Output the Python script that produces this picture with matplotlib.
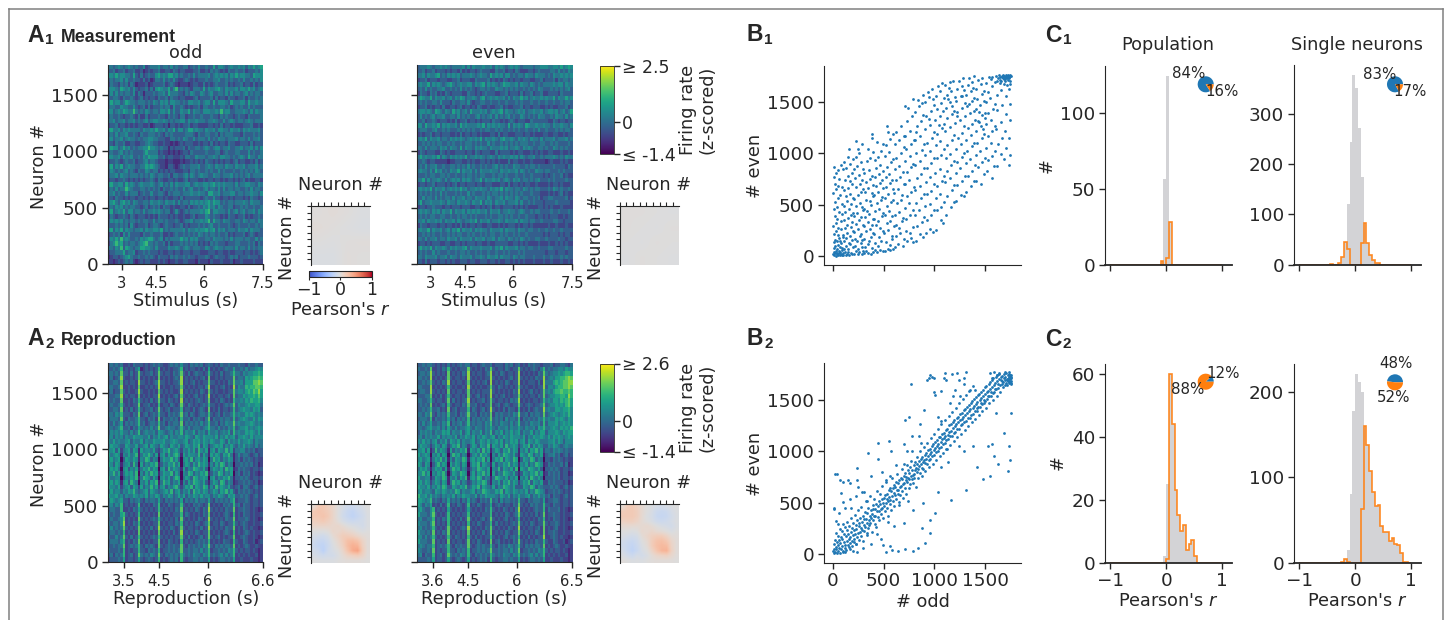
"""Split-half firing rate maps, rank scatter plots and correlation histograms."""

import matplotlib

matplotlib.use("Agg")
import matplotlib.pyplot as plt
import numpy as np
from matplotlib.cm import ScalarMappable
from matplotlib.colors import Normalize
from matplotlib.lines import Line2D

WIDTH = 1448
HEIGHT = 620
N_NEURONS = 1768
N_BINS = 62
TEXT_COLOR = "#262626"
BLUE = "#1f77b4"
ORANGE = "#ff7f0e"
GREY = "#d3d3d6"

# coarse firing rate maps, one digit per cell, top row first
A1_ODD = [
    "44345434543 43352344 453443534 3344234353 343363554345 445453546456",
    "33423342334 22312323 342233243 2332223342 232434323243 343342333435",
    "55464554436 32423433 564546645 3433435344 445345454535 464554436555",
    "34344535334 33242312 443534353 2234323233 343344533434 334353343435",
    "24332434243 12223123 333423432 1222123322 423234333423 233423324233",
    "45543654535 32334242 565446357 3434324443 635445643544 453554645345",
    "35353434435 24313334 344536444 3324354335 434533443535 344345343443",
    "33443243343 23423233 243342433 2332223423 333424233243 323342433434",
    "46455346544 34443435 435453554 4343554453 455363555436 444553644544",
    "34433544335 32342423 334344253 3432323342 443343344342 343433534333",
    "55345465447 43435434 435546353 3544635443 555445474553 344454353544",
    "34334323343 24224233 343324343 2442334334 333433243433 234332433334",
    "44534453445 34345345 544543434 4553544544 434454335345 434434543444",
    "23342332323 23322312 333231332 3233423322 223323242332 322233342232",
    "56445354544 44354454 644535463 5534664544 354453554435 445354544453",
    "34353445334 32433444 343243433 3334443243 344334243444 333243334343",
    "45344534544 34344554 433322443 4354335344 435343544344 453443534453",
    "33243342233 22334543 322322121 2323332232 332423233243 322333242333",
    "46553464534 34455755 434331323 3342433443 454345534453 344534453535",
    "34334534343 33346444 423221212 1233243333 343334423433 344333534334",
    "55445354453 34354655 533423322 2324433544 434454355443 434543644354",
    "23343234334 23345344 322212211 1212232323 243323232332 342332232423",
    "46354634544 33446565 432213321 2343344453 345435443544 354453444534",
    "35434345343 24335434 423232332 2233244343 343433534333 433434343543",
    "34453544344 43434354 344334244 3345354345 443354434445 343434534444",
    "23323343232 32323343 243223323 2234233322 323323323233 232342322332",
    "56445536454 34544454 345343535 4445534544 554564545444 353445544354",
    "34353447543 33443434 342433434 3353453343 453443535344 344334353443",
    "44534335344 42343353 344324344 4344454454 436644534445 534434454435",
    "33243323233 23323233 233232233 2423333332 343353323323 233323243323",
    "45643564535 43344354 454354453 5344354545 456465534344 344454354443",
    "34354534344 33234234 342433232 2332423343 546453543344 233434334334",
    "46345463553 44353445 454344235 3234344445 467355444353 453453445354",
    "24323343243 23332323 243332323 2232234233 354343323243 323342323343",
    "35454534344 34344335 344343334 3234453445 457364435443 344354344354",
    "33343434253 23334234 432343323 3423233343 434533433343 234333433434",
    "56354635443 44535445 546343444 4453544545 564563545344 435445354443",
    "23434253533 33243343 334223234 3343434354 343443433423 233342343233",
    "35464745433 43545664 345243444 4645354533 344354443435 344434433534",
    "24575634344 34567443 433424233 3434343423 232434333233 344333434243",
    "44354736543 44665543 533335445 4345434443 354345443444 353443534344",
    "23344463445 23343433 323223323 3233323332 223332332232 233323323234",
    "12332345643 34334343 243332434 3343433233 343234333234 342333433323",
    "22123234342 12323322 232321223 2233222132 221322232223 122322223222",
]
A1_EVEN = [
    "34445434454 54344445 353544454 4535454345 454344443445 554455464565",
    "33423342333 23233242 323323433 3224334233 243222332343 333443534354",
    "44535445634 35454534 445434544 3645453553 434435443544 434354454545",
    "23342333233 32233423 332243333 4232324323 233233322334 233342434434",
    "45446354543 45643454 455354563 5454346554 453544354343 444454553544",
    "34353433445 33434353 434323443 4335443434 343343434354 333434343453",
    "24332434232 43233332 243323234 3332233423 332423342334 223333243333",
    "46544635445 34535465 344543563 4545445353 544645345445 454463544645",
    "34343344353 33243344 353233443 3433433433 343433343343 343343343443",
    "23342323324 22332342 332324322 3223342322 333423323332 232322333423",
    "45545436543 54364534 536444545 3454563544 345453445445 345545345346",
    "35343453445 33443534 343345343 4535343453 433543434354 433435443534",
    "33423343233 32324233 423323233 3243323234 323332243333 332243233233",
    "55364454635 45445364 544445463 5454544363 545436544544 544354454435",
    "34443345334 34333434 343433434 4334343343 434334334353 343334343443",
    "23233423323 33223242 332332322 2332423322 233323323222 332233223233",
    "45463544534 43545454 345454635 4454356445 435454354435 344453444534",
    "33434343443 34343343 444343433 5343343434 343444334334 433434333343",
    "44353444354 53544363 544354544 3544454534 454354543344 343354343433",
    "24323332243 23223333 233243233 3224233332 323322232323 223322232232",
    "46454454635 43545454 634454543 4543545445 453543445334 344454343544",
    "33432332222 21223332 232322332 3232322242 332232232222 212322232322",
    "34353445334 33443434 353433434 3345343433 544334344343 333343333243",
    "45443536453 43544635 445353544 4544354454 453543433544 344333434333",
    "33343443344 34334334 344343443 3343443433 343343343333 232343342322",
    "44635344543 53454535 454344635 4454534543 545344343453 334343333433",
    "23323342333 23234233 233323323 3322233242 332323322322 223233232223",
    "45454635445 34545464 534454544 3545463544 344354343443 334354343343",
    "34343434353 43334343 353433343 4344343434 343433343332 223232342322",
    "33534435343 44353445 344354443 5434453544 354344334342 334433333423",
    "46344544454 35443544 543544635 4535445344 453533434333 233334333332",
    "23323343332 33233323 332233232 3423323333 232323222233 232322232222",
    "45454354535 44635445 354545445 3544534454 434543343443 333433433343",
    "34343443344 33433434 434343334 3433443434 334334333233 232333223233",
    "44535445453 54453543 445463544 5344543544 453544344334 333344332333",
    "24332333233 23323242 323323322 3322323233 323233232222 223223222322",
    "45446354453 45354635 445354544 3544453544 435443443343 343343343333",
    "33434343343 34343443 343433434 3443343433 434334333333 232333232332",
    "44353445344 35445354 445354453 4453544354 343543433443 343333433233",
    "23323233322 33223323 233323322 3223333322 332323222232 223223232322",
    "46454635445 43545445 635444544 4535463544 453443443343 334433333433",
    "34343353433 34334344 343343433 4334334343 334343333333 323332333233",
    "44354445344 53544354 445344543 5445354443 543443334333 433433343433",
    "33242333233 23232233 323322333 2332322332 323232223222 322322232232",
]
A2_ODD = [
    "34343 4 223243 3 3232343 4 32234343 5 3324343423 4 323243343 3 34332433433",
    "33434 7 232324 6 1232323 7 23232334 7 2323323242 6 232323433 6 33435344565",
    "44343 8 332423 8 3233423 8 32332434 8 3242343323 7 323242334 7 44354556676",
    "34234 9 322323 8 2323232 8 23232343 9 2323232342 8 223232333 8 34436567787",
    "33443 8 232332 9 3323234 9 33232334 9 2323423233 8 332323243 8 44536668898",
    "44334 9 223232 8 2232323 9 23223233 8 3232323324 9 223234232 9 35447677887",
    "34233 8 323223 9 3223232 8 32323223 9 2323232432 8 323223233 8 45546768796",
    "33344 9 232332 8 2323233 9 23232342 8 3232342323 9 232332342 8 34465667686",
    "43433 8 223243 7 3232423 8 33243232 9 2323234323 8 223243232 7 44546576675",
    "34334 7 323233 8 2334232 7 23324323 8 3243232343 7 332323434 8 35445655664",
    "33443 8 232423 7 3233423 8 32342333 7 2332423432 8 232423323 7 34565546563",
    "44354 7 333243 8 2342343 7 33243434 8 3424323443 7 323424334 7 45446565454",
    "34443 8 324334 7 3324342 8 24334342 7 3342434324 8 243343443 7 34565446465",
    "43534 6 243434 7 3423443 7 34243443 8 2434343534 7 334243544 8 45445565454",
    "44345 7 334243 6 4343534 8 33454434 7 4353444345 7 443534354 7 34556454565",
    "35454 6 443534 7 3454453 6 54345354 7 3544635453 6 445345463 7 45446565464",
    "45354 5 354465 5 5446354 6 45635445 5 4654365465 5 546354645 6 35565464555",
    "54645 4 456354 4 6354465 5 56445654 4 5634656465 4 654465364 5 46455653544",
    "46554 3 365446 3 4563654 3 65436546 3 4654657365 2 456563546 4 35464543534",
    "55636 2 456365 1 6455463 2 46574564 2 5464637546 1 563654746 2 44553434233",
    "64565 1 546457 1 4657536 1 56364675 1 6465547364 1 646536574 1 35344323423",
    "56456 0 365465 1 5476354 0 46557463 0 5647356465 0 475635465 1 34243432322",
    "65365 1 456374 0 6354657 1 35465746 0 4653647565 1 536476354 0 33434342312",
    "46564 0 563546 1 4657465 0 56374654 1 6354765463 0 465463756 1 24343323323",
    "55746 1 465647 0 5364756 1 46557364 0 5476354657 1 354763546 0 34243423212",
    "64455 0 354657 1 4765364 0 56463576 0 4653764565 0 563546574 1 33434323323",
    "56465 1 563754 0 5463657 1 47563546 1 5364765463 1 465376354 1 23343432312",
    "65546 2 456365 2 6354746 2 56354674 2 4657365476 2 537465463 2 34244323423",
    "46455 3 546574 3 4563654 3 45647356 3 5463756465 3 465365746 3 24343432323",
    "65564 5 354465 4 5463546 5 35465346 4 6354654645 5 354654365 6 33434323423",
    "46545 6 332434 5 3243443 6 32434343 6 2434353443 6 324343435 7 23334323323",
    "45354 7 232323 7 2323243 7 23243233 7 3232434323 8 232324343 7 34243323323",
    "34433 7 223243 6 3232323 7 32323243 8 2323243243 9 323232433 8 23343323212",
    "43433 6 732323 7 2323232 8 23232333 7 2432323243 8 232323432 7 23243323223",
    "34334 5 823232 8 3232343 7 32323242 8 3232324323 9 323232433 8 23334323212",
    "43443 5 923243 7 2323233 8 23233243 7 2323243234 8 233243233 7 32343223223",
    "35343 4 832323 8 3232423 9 32324323 8 3233232423 9 323232433 8 23243232212",
    "34434 3 723232 8 2323232 8 23232423 9 2323243233 8 232323432 7 23234323223",
    "43353 4 832423 7 3232343 7 32323233 8 3242323423 8 323423233 8 22343223212",
    "34443 5 723243 8 2323233 8 23243232 7 2323234343 7 232324332 7 32243223123",
    "33434 4 823434 7 3243432 8 32343433 8 3243434354 8 324343443 8 23234322322",
    "43334 3 723233 7 3324343 7 23343434 8 3343443534 7 233434354 7 32323323212",
    "34243 4 723423 8 4343543 8 32434343 7 4343544354 7 343453534 7 23232322312",
    "23334 3 623323 6 3234323 7 23234342 7 3233443433 6 232344343 6 22322232212",
]
A2_EVEN = [
    "33434 4 323232 4 2323434 4 23323433 4 2333243423 4 232434332 3 33423344324",
    "43343 8 223243 7 3232333 8 32323243 8 3233243233 8 323234324 7 34344554655",
    "34434 9 323232 8 2323243 9 23233234 9 2324323323 9 232323243 8 43455656776",
    "44343 9 232323 8 3233232 9 32323233 9 3232323423 9 323232433 9 34546677898",
    "33434 8 323243 9 2323323 8 23232342 9 2323243233 9 232333242 9 44467678899",
    "44333 9 232323 7 3232232 9 32323223 8 3243232323 8 323223233 9 35546778898",
    "34433 9 323232 8 2323323 8 23232333 9 3232323243 9 232342323 8 45467787787",
    "33344 8 232423 7 3233232 8 32342323 9 2323423233 8 323233243 8 34556677697",
    "44334 7 323323 8 2423234 9 23233423 8 3233232434 9 232323323 7 45466576786",
    "34343 8 232342 7 3233243 8 33423233 8 2342343233 8 323432334 8 34556565786",
    "33434 7 334232 8 2342333 7 24323423 9 3232424332 7 232423433 9 45446656675",
    "44354 8 324343 7 3342434 8 33424343 8 2434334354 8 334243443 8 34565456575",
    "34443 7 243343 6 3424343 7 24343434 8 3434253443 7 243434354 7 45446565465",
    "43534 6 334354 7 2434534 7 34344354 7 3435443534 7 334354453 7 35556456565",
    "44345 6 445353 6 4353445 6 43544354 6 4354453544 6 435445365 7 44565465657",
    "35454 5 354465 6 3544635 6 35446354 7 3546354645 6 354463546 6 35556546566",
    "45354 5 446354 5 5463546 5 46354654 5 6354654655 5 463546556 5 46465654565",
    "54645 3 563546 3 6546354 4 56346546 4 5646354656 3 563654654 4 45564653555",
    "46554 2 465365 2 4657354 2 46536547 2 6546374565 2 465736465 3 35465434544",
    "55636 1 374654 1 6354657 1 65463746 1 4653657465 1 546365746 2 44354543433",
    "64565 0 546365 0 4756354 0 35647564 0 5364765463 1 654763546 1 34453423423",
    "56456 1 465746 1 5365476 1 56465736 0 4657365476 0 365476354 0 33243432322",
    "65365 0 357465 0 6465365 0 46573654 1 6354657465 1 546354765 1 24343342412",
    "46564 1 465636 1 4756354 1 35476546 0 5473654637 0 654765463 0 33434323323",
    "55746 0 546574 0 3654765 0 46365746 0 6354765463 1 365465746 1 24343423312",
    "64455 1 365476 1 5463657 1 56476354 1 4765463546 0 546375464 0 33343423323",
    "56465 2 465365 1 4756354 2 35465763 1 5463657465 2 465736546 2 24343332312",
    "65546 3 546476 3 3654657 3 46573654 3 6354765463 3 365476354 3 33434323423",
    "56455 4 365465 4 5476354 4 56354765 4 4657365465 4 546354765 4 23343432323",
    "75564 6 454354 5 4635465 5 44635465 5 5436546354 6 445635464 5 34243323423",
    "66545 7 343243 6 3434243 6 34324343 7 3425344343 7 332434443 6 23344323323",
    "65354 6 232423 7 2324323 7 23243233 6 2343233243 8 323243433 7 33243323323",
    "56433 5 723232 6 3232323 6 32323243 7 3232432324 9 232323433 7 24333423212",
    "64443 5 832323 7 2323233 7 23232333 7 2323243234 8 323232423 8 23343323223",
    "45334 4 723243 7 3232423 8 32323423 8 3232342323 7 232323243 7 23243323212",
    "54443 5 823232 7 2323232 7 23243233 7 2423232343 8 323243233 8 32334323223",
    "45343 4 732323 8 3232343 9 32323243 8 3232324323 9 232332342 8 23234223212",
    "64434 3 823243 8 2323232 8 23232423 8 2323243233 8 323232432 8 23343223223",
    "55353 4 732323 7 3243232 7 32423233 7 3232342343 7 232423233 9 22343232212",
    "64443 3 823232 8 2323323 8 23243232 8 2342323243 8 323232433 7 32243223123",
    "45434 4 723434 7 3243433 8 32343433 7 3243435434 7 324343443 8 23234322322",
    "54334 3 823233 7 3324343 7 23343434 8 3343443534 8 233434354 7 32323323212",
    "45243 3 723423 8 4343543 7 32434343 7 4343544354 7 343453534 7 23232322312",
    "33334 3 623323 6 3234323 6 23234342 7 3233443433 6 232344343 6 22322232212",
]
CELL_BASE = -1.3
CELL_STEP = 0.36

A1_TIME_TICKS = [5.4, 19.2, 38.4, 62]
A1_TIME_LABELS = ["3", "4.5", "6", "7.5"]
A2_ODD_TIME_TICKS = [6.3, 20.5, 40, 62]
A2_ODD_TIME_LABELS = ["3.5", "4.5", "6", "6.6"]
A2_EVEN_TIME_TICKS = [6.3, 20.4, 40, 62]
A2_EVEN_TIME_LABELS = ["3.6", "4.5", "6", "6.5"]
NEURON_TICKS = [0, 500, 1000, 1500]

CORR_A1_ODD = [
    [0.01, 0.03, 0.01, -0.02],
    [0.03, 0.01, -0.01, -0.03],
    [0.00, -0.01, 0.01, 0.02],
    [-0.03, -0.03, 0.02, 0.00],
]
CORR_A1_EVEN = [
    [0.01, 0.01, 0.00, -0.01],
    [0.01, 0.00, -0.01, 0.01],
    [0.00, -0.01, 0.01, 0.00],
    [-0.01, 0.01, 0.00, -0.01],
]
CORR_A2_ODD = [
    [0.05, 0.20, 0.22, 0.15, 0.10, 0.00, -0.05, -0.10, -0.12, -0.08, -0.05, 0.00],
    [0.20, 0.25, 0.22, 0.18, 0.10, 0.00, -0.08, -0.15, -0.18, -0.12, -0.08, -0.02],
    [0.22, 0.22, 0.25, 0.20, 0.10, 0.00, -0.10, -0.15, -0.20, -0.15, -0.10, -0.03],
    [0.15, 0.18, 0.20, 0.15, 0.10, 0.02, -0.05, -0.10, -0.12, -0.10, -0.08, -0.03],
    [0.10, 0.10, 0.10, 0.10, 0.08, 0.10, 0.05, 0.00, -0.03, -0.05, -0.08, -0.03],
    [0.00, 0.00, 0.00, 0.02, 0.10, 0.08, 0.12, 0.08, 0.05, 0.00, -0.03, 0.00],
    [-0.05, -0.08, -0.10, -0.05, 0.05, 0.12, 0.18, 0.18, 0.15, 0.10, 0.05, 0.02],
    [-0.10, -0.15, -0.15, -0.10, 0.00, 0.08, 0.18, 0.28, 0.30, 0.25, 0.12, 0.03],
    [-0.12, -0.18, -0.20, -0.12, -0.03, 0.05, 0.15, 0.30, 0.38, 0.35, 0.15, 0.03],
    [-0.08, -0.12, -0.22, -0.10, -0.05, 0.00, 0.10, 0.25, 0.40, 0.45, 0.18, 0.03],
    [-0.05, -0.08, -0.10, -0.08, -0.08, -0.03, 0.05, 0.12, 0.15, 0.18, 0.12, 0.02],
    [0.00, -0.02, -0.03, -0.03, -0.03, 0.00, 0.02, 0.03, 0.03, 0.03, 0.02, 0.00],
]
CORR_A2_EVEN = [
    [0.05, 0.18, 0.20, 0.14, 0.06, 0.00, -0.03, -0.06, -0.08, -0.05, -0.03, 0.00],
    [0.18, 0.20, 0.20, 0.16, 0.06, 0.00, -0.05, -0.12, -0.14, -0.12, -0.06, -0.02],
    [0.20, 0.20, 0.20, 0.16, 0.06, -0.02, -0.06, -0.14, -0.16, -0.14, -0.08, -0.03],
    [0.14, 0.16, 0.16, 0.12, 0.05, 0.00, -0.04, -0.10, -0.12, -0.10, -0.06, -0.02],
    [0.06, 0.06, 0.06, 0.05, 0.06, 0.08, 0.04, 0.00, -0.04, -0.06, -0.08, -0.03],
    [0.00, 0.00, -0.02, 0.00, 0.08, 0.06, 0.10, 0.05, 0.03, 0.00, -0.04, 0.00],
    [-0.03, -0.06, -0.08, -0.06, 0.04, 0.10, 0.15, 0.18, 0.18, 0.12, 0.04, 0.02],
    [-0.08, -0.12, -0.14, -0.10, 0.00, 0.06, 0.18, 0.26, 0.28, 0.22, 0.10, 0.03],
    [-0.10, -0.14, -0.18, -0.12, -0.03, 0.04, 0.18, 0.28, 0.32, 0.30, 0.12, 0.03],
    [-0.06, -0.14, -0.20, -0.14, -0.05, 0.00, 0.12, 0.24, 0.34, 0.36, 0.14, 0.03],
    [-0.03, -0.08, -0.12, -0.06, -0.08, -0.04, 0.04, 0.10, 0.12, 0.14, 0.08, 0.02],
    [0.02, 0.00, -0.03, -0.02, -0.03, 0.00, 0.02, 0.03, 0.03, 0.03, 0.02, 0.00],
]
CORR_TICKS = [0, 200, 400, 600, 800, 1000, 1200, 1400, 1600]

B1_POINTS = [
    (3, 17), (9, 41), (14, 8), (22, 29), (27, 3), (33, 52), (38, 14), (44, 33), (51, 6), (57, 24),
    (63, 47), (69, 11), (74, 38), (81, 19), (87, 58), (93, 7), (98, 31), (11, 73), (24, 92), (37, 68),
    (49, 107), (66, 84), (78, 121), (91, 76), (6, 133), (19, 158), (41, 142), (58, 176), (72, 149), (96, 188),
    (13, 214), (31, 247), (47, 203), (83, 262), (4, 291), (26, 318), (54, 276), (77, 337), (17, 386), (43, 363),
    (89, 412), (8, 453), (36, 478), (64, 431), (21, 527), (52, 569), (94, 503), (2, 612), (29, 648), (71, 596),
    (16, 703), (47, 686), (86, 672), (7, 772), (34, 811), (61, 749), (12, 863), (53, 841), (79, 887), (98, 846),
    (104, 12), (118, 37), (127, 6), (139, 22), (152, 41), (163, 9), (177, 28), (191, 16), (108, 69), (133, 94),
    (147, 63), (171, 112), (194, 83), (112, 143), (129, 171), (158, 126), (183, 157), (103, 207), (141, 228), (167, 193),
    (199, 241), (116, 269), (136, 303), (174, 282), (189, 327), (107, 352), (149, 374), (181, 398), (122, 427), (161, 456),
    (197, 419), (113, 491), (143, 532), (178, 507), (126, 581), (168, 608), (193, 563), (106, 639), (153, 667), (186, 702),
    (119, 743), (147, 781), (173, 726), (192, 813), (131, 862), (164, 894), (109, 917), (197, 942), (157, 1043), (144, 968),
    (208, 23), (226, 51), (243, 14), (261, 38), (283, 19), (296, 47), (219, 96), (251, 72), (274, 123), (291, 88),
    (213, 167), (237, 143), (268, 191), (289, 152), (204, 233), (248, 261), (279, 218), (223, 314), (257, 347), (294, 302),
    (211, 392), (241, 423), (276, 381), (298, 446), (229, 487), (263, 516), (287, 472), (207, 558), (246, 593), (278, 621),
    (232, 672), (269, 703), (297, 654), (217, 758), (254, 787), (284, 736), (203, 843), (239, 876), (272, 912), (293, 851),
    (224, 961), (258, 1003), (231, 1118), (287, 1096), (246, 1041), (302, 27), (328, 43), (349, 31), (371, 22), (394, 38),
    (317, 86), (343, 117), (386, 74), (309, 163), (358, 142), (379, 187), (327, 238), (364, 264), (393, 219), (304, 293),
    (342, 327), (381, 306), (319, 382), (359, 408), (397, 361), (308, 462), (337, 436), (373, 497), (326, 548), (362, 531),
    (391, 583), (313, 627), (348, 664), (386, 612), (322, 723), (367, 746), (396, 694), (307, 813), (353, 837), (384, 782),
    (331, 923), (369, 956), (392, 1011), (383, 1191), (388, 1146), (341, 1047), (412, 53), (437, 38), (463, 61), (489, 44),
    (419, 128), (447, 97), (478, 146), (407, 213), (452, 183), (491, 238), (426, 297), (468, 276), (403, 364), (441, 341),
    (483, 392), (418, 437), (457, 462), (496, 418), (431, 518), (473, 547), (409, 593), (446, 621), (487, 576), (423, 682),
    (462, 709), (494, 661), (414, 767), (451, 794), (481, 743), (428, 853), (466, 886), (498, 826), (411, 932), (443, 968),
    (476, 1021), (437, 1106), (492, 1089), (513, 52), (539, 68), (567, 57), (593, 71), (523, 136), (558, 107), (586, 163),
    (507, 227), (544, 253), (578, 198), (529, 318), (563, 342), (597, 296), (516, 403), (551, 437), (583, 389), (533, 491),
    (571, 524), (509, 567), (546, 602), (589, 548), (527, 671), (562, 707), (596, 654), (518, 769), (553, 803), (581, 741),
    (536, 867), (573, 912), (511, 971), (549, 1016), (592, 943), (524, 1083), (567, 1142), (531, 1271), (587, 1192), (542, 1207),
    (607, 86), (643, 113), (686, 97), (622, 193), (661, 226), (697, 164), (618, 304), (654, 276), (683, 341), (612, 397),
    (647, 428), (693, 369), (628, 516), (668, 548), (604, 611), (639, 653), (682, 593), (621, 736), (663, 773), (699, 704),
    (609, 843), (652, 877), (691, 821), (626, 957), (672, 1006), (614, 1087), (648, 1129), (696, 1058), (623, 1213), (667, 1268),
    (702, 1173), (713, 1466), (733, 147), (768, 173), (791, 138), (718, 247), (756, 226), (787, 286), (723, 358), (761, 403),
    (708, 468), (749, 512), (793, 447), (727, 586), (772, 627), (706, 697), (753, 743), (796, 676), (728, 819), (769, 864),
    (714, 926), (758, 973), (792, 897), (724, 1038), (773, 1087), (711, 1169), (757, 1223), (798, 1128), (734, 1312), (776, 1368),
    (788, 1533), (743, 1438), (817, 146), (862, 214), (891, 187), (826, 293), (874, 327), (806, 398), (847, 443), (893, 376),
    (823, 517), (869, 562), (813, 643), (858, 681), (897, 607), (828, 763), (871, 797), (809, 884), (853, 923), (894, 857),
    (821, 1003), (873, 1036), (811, 1127), (856, 1172), (898, 1096), (827, 1263), (866, 1314), (807, 1406), (852, 1463), (892, 1379),
    (838, 1518), (883, 1567), (818, 1213), (879, 1489), (913, 228), (958, 263), (987, 236), (926, 347), (967, 394), (908, 483),
    (952, 507), (993, 446), (928, 603), (971, 637), (914, 718), (957, 773), (996, 698), (923, 858), (968, 903), (906, 982),
    (953, 1023), (991, 957), (929, 1097), (972, 1153), (911, 1234), (956, 1277), (994, 1206), (921, 1363), (966, 1412), (907, 1497),
    (951, 1553), (997, 1468), (933, 1602), (976, 1628), (946, 1336), (983, 1527), (1018, 257), (1063, 346), (1087, 317), (1026, 443),
    (1068, 472), (1012, 563), (1057, 607), (1096, 527), (1023, 683), (1072, 727), (1008, 813), (1053, 847), (1094, 776), (1027, 953),
    (1067, 987), (1013, 1083), (1052, 1116), (1097, 1043), (1028, 1187), (1071, 1243), (1006, 1323), (1058, 1368), (1092, 1286), (1024, 1437),
    (1069, 1493), (1011, 1563), (1056, 1607), (1098, 1537), (1033, 1653), (1076, 1683), (1083, 1416), (1042, 1276), (1113, 397), (1162, 473),
    (1188, 528), (1127, 586), (1173, 643), (1108, 717), (1153, 763), (1196, 687), (1123, 827), (1167, 883), (1112, 953), (1157, 997),
    (1193, 927), (1128, 1083), (1171, 1127), (1106, 1223), (1153, 1257), (1197, 1176), (1123, 1343), (1172, 1387), (1113, 1447), (1156, 1503),
    (1192, 1416), (1127, 1573), (1168, 1607), (1108, 1663), (1153, 1693), (1198, 1547), (1187, 1704), (1143, 1638), (1133, 1527), (1178, 1463),
    (1217, 538), (1263, 597), (1287, 583), (1223, 693), (1273, 727), (1208, 813), (1252, 853), (1297, 776), (1226, 917), (1268, 963),
    (1213, 1043), (1257, 1087), (1293, 1006), (1228, 1153), (1272, 1197), (1206, 1293), (1253, 1327), (1296, 1263), (1223, 1403), (1267, 1447),
    (1212, 1513), (1258, 1556), (1298, 1487), (1227, 1623), (1273, 1657), (1243, 1707), (1283, 1733), (1292, 1617), (1268, 1563), (1218, 1363),
    (1313, 623), (1362, 677), (1388, 733), (1327, 783), (1373, 827), (1308, 903), (1353, 947), (1397, 883), (1323, 1023), (1367, 1073),
    (1312, 1127), (1357, 1183), (1393, 1097), (1328, 1243), (1372, 1287), (1306, 1363), (1353, 1397), (1396, 1327), (1323, 1463), (1367, 1513),
    (1312, 1567), (1358, 1613), (1392, 1543), (1327, 1663), (1373, 1697), (1342, 1733), (1388, 1752), (1383, 1637), (1337, 1483), (1387, 1416),
    (1413, 733), (1463, 703), (1488, 797), (1427, 863), (1468, 913), (1408, 983), (1453, 1027), (1497, 957), (1423, 1103), (1472, 1147),
    (1412, 1223), (1457, 1263), (1493, 1187), (1428, 1317), (1467, 1373), (1406, 1433), (1452, 1467), (1498, 1397), (1423, 1533), (1473, 1583),
    (1412, 1627), (1457, 1673), (1492, 1607), (1427, 1713), (1468, 1737), (1443, 1303), (1483, 1237), (1438, 1403), (1487, 1513), (1503, 1343),
    (1518, 827), (1563, 763), (1588, 873), (1523, 933), (1572, 977), (1508, 1053), (1553, 1097), (1597, 1027), (1527, 1173), (1568, 1217),
    (1512, 1283), (1558, 1327), (1592, 1263), (1523, 1393), (1573, 1437), (1507, 1503), (1552, 1537), (1597, 1483), (1528, 1597), (1567, 1653),
    (1513, 1687), (1557, 1723), (1593, 1693), (1533, 1748), (1572, 1743), (1612, 1707), (1627, 1738), (1643, 1717), (1662, 1753), (1683, 1728),
    (1617, 877), (1653, 997), (1687, 947), (1623, 1093), (1667, 1147), (1703, 1053), (1733, 883), (1747, 987), (1608, 1237), (1657, 1303),
    (1693, 1217), (1737, 1147), (1743, 1323), (1618, 1423), (1663, 1467), (1707, 1387), (1742, 1483), (1613, 1573), (1658, 1617), (1703, 1563),
    (1733, 1623), (1698, 1703), (1717, 1737), (1728, 1757), (1747, 1766), (1688, 1758), (1707, 1763), (1722, 1747), (1738, 1742), (1752, 1757),
    (1673, 1733), (1637, 1763), (1653, 1707), (1727, 1713), (1748, 1703), (1683, 1677), (1712, 1663), (1743, 1672), (1642, 1683), (1603, 1758),
    (1668, 1748), (1693, 1742), (1713, 1754), (1733, 1733), (1697, 1726), (1677, 1763), (1743, 1752), (1723, 1767), (1651, 1741), (1703, 1747),
]

B2_POINTS = [
    (2, 31), (6, 8), (9, 94), (13, 52), (18, 137), (21, 17), (26, 71), (29, 203), (34, 43), (37, 116),
    (42, 6), (46, 84), (49, 178), (54, 29), (57, 131), (62, 62), (66, 247), (69, 11), (74, 103), (78, 168),
    (81, 47), (86, 221), (89, 76), (94, 143), (97, 289), (102, 22), (106, 117), (109, 193), (114, 58), (118, 262),
    (123, 91), (126, 176), (131, 36), (134, 231), (139, 128), (143, 314), (146, 83), (151, 197), (154, 142), (158, 64),
    (163, 273), (167, 168), (171, 106), (174, 348), (179, 217), (183, 126), (186, 251), (191, 78), (194, 186), (199, 306),
    (203, 147), (207, 236), (212, 112), (216, 383), (219, 194), (224, 277), (227, 98), (232, 243), (236, 164), (241, 331),
    (244, 207), (248, 426), (253, 268), (257, 133), (261, 297), (264, 218), (269, 353), (273, 176), (277, 252), (281, 461),
    (286, 314), (289, 233), (294, 373), (297, 127), (302, 286), (306, 342), (311, 224), (314, 407), (318, 263), (323, 518),
    (327, 337), (331, 181), (336, 302), (339, 396), (344, 248), (348, 443), (352, 327), (357, 278), (361, 374), (364, 561),
    (369, 304), (373, 427), (378, 346), (382, 216), (386, 392), (391, 478), (394, 331), (399, 436), (403, 367), (407, 532),
    (412, 293), (416, 438), (419, 373), (424, 487), (428, 267), (433, 416), (437, 613), (441, 463), (446, 358), (449, 514),
    (454, 423), (458, 332), (463, 486), (467, 582), (471, 437), (476, 387), (479, 536), (484, 448), (488, 663), (493, 494),
    (497, 352), (502, 543), (506, 463), (511, 417), (514, 576), (519, 492), (523, 698), (528, 531), (532, 447), (537, 587),
    (541, 513), (546, 371), (549, 628), (554, 553), (558, 486), (563, 644), (567, 527), (571, 431), (576, 611), (579, 743),
    (584, 563), (588, 647), (593, 518), (597, 676), (602, 593), (606, 463), (611, 654), (614, 576), (619, 706), (623, 537),
    (628, 627), (632, 782), (637, 586), (641, 693), (646, 623), (649, 507), (654, 716), (658, 648), (663, 577), (667, 743),
    (672, 663), (676, 827), (681, 613), (684, 727), (689, 683), (693, 547), (698, 763), (702, 692), (707, 643), (711, 786),
    (716, 718), (719, 583), (724, 753), (728, 867), (733, 701), (737, 817), (742, 736), (746, 647), (751, 793), (754, 731),
    (759, 683), (763, 846), (768, 757), (772, 906), (777, 728), (781, 817), (786, 772), (789, 693), (794, 863), (798, 781),
    (803, 737), (807, 896), (812, 823), (816, 653), (821, 842), (824, 947), (829, 803), (833, 873), (838, 826), (842, 743),
    (847, 903), (851, 857), (856, 786), (859, 1003), (864, 876), (868, 923), (873, 841), (877, 763), (882, 946), (886, 893),
    (891, 832), (894, 1047), (899, 913), (903, 963), (908, 886), (912, 806), (917, 983), (921, 927), (926, 873), (929, 1086),
    (934, 953), (938, 1013), (943, 917), (947, 843), (952, 1026), (956, 973), (961, 923), (964, 1127), (969, 993), (973, 1053),
    (978, 956), (982, 876), (987, 1067), (991, 1013), (996, 963), (999, 1173), (1004, 1036), (1008, 1093), (1013, 997), (1017, 912),
    (1022, 1107), (1026, 1053), (1031, 1002), (1034, 1218), (1039, 1073), (1043, 1137), (1048, 1036), (1052, 953), (1057, 1143), (1061, 1093),
    (1066, 1043), (1069, 1263), (1074, 1116), (1078, 1173), (1083, 1073), (1087, 986), (1092, 1183), (1096, 1127), (1101, 1083), (1104, 1306),
    (1109, 1146), (1113, 1213), (1118, 1113), (1122, 1026), (1127, 1223), (1131, 1163), (1136, 1116), (1139, 1347), (1144, 1186), (1148, 1253),
    (1153, 1147), (1157, 1063), (1162, 1263), (1166, 1203), (1171, 1153), (1174, 1386), (1179, 1226), (1183, 1283), (1188, 1183), (1192, 1103),
    (1197, 1303), (1201, 1243), (1206, 1187), (1209, 1426), (1214, 1263), (1218, 1327), (1223, 1216), (1227, 1143), (1232, 1337), (1236, 1283),
    (1241, 1223), (1244, 1473), (1249, 1303), (1253, 1363), (1258, 1253), (1262, 1173), (1267, 1376), (1271, 1317), (1276, 1263), (1279, 1513),
    (1284, 1336), (1288, 1403), (1293, 1286), (1297, 1207), (1302, 1416), (1306, 1353), (1311, 1293), (1314, 1553), (1319, 1373), (1323, 1437),
    (1328, 1323), (1332, 1247), (1337, 1453), (1341, 1393), (1346, 1326), (1349, 1597), (1354, 1413), (1358, 1473), (1363, 1357), (1367, 1283),
    (1372, 1487), (1376, 1427), (1381, 1363), (1384, 1636), (1389, 1446), (1393, 1513), (1398, 1393), (1402, 1317), (1407, 1527), (1411, 1463),
    (1416, 1397), (1419, 1423), (1424, 1483), (1428, 1547), (1433, 1428), (1437, 1353), (1442, 1563), (1446, 1503), (1451, 1436), (1454, 1467),
    (1459, 1523), (1463, 1583), (1468, 1463), (1472, 1393), (1477, 1603), (1481, 1537), (1486, 1473), (1489, 1503), (1494, 1557), (1498, 1623),
    (1503, 1496), (1507, 1427), (1512, 1637), (1516, 1577), (1521, 1507), (1524, 1543), (1529, 1593), (1533, 1657), (1538, 1536), (1542, 1467),
    (1547, 1673), (1551, 1613), (1556, 1543), (1559, 1576), (1564, 1632), (1568, 1693), (1573, 1573), (1577, 1503), (1582, 1713), (1586, 1651),
    (1591, 1583), (1594, 1613), (1599, 1667), (1603, 1727), (1608, 1607), (1612, 1543), (1617, 1743), (1621, 1683), (1626, 1617), (1629, 1653),
    (1634, 1703), (1638, 1757), (1643, 1643), (1647, 1583), (1652, 1692), (1656, 1722), (1661, 1657), (1664, 1686), (1669, 1737), (1673, 1623),
    (1678, 1672), (1682, 1716), (1687, 1753), (1691, 1643), (1696, 1696), (1699, 1727), (1704, 1667), (1708, 1763), (1713, 1708), (1717, 1643),
    (1722, 1741), (1726, 1686), (1731, 1723), (1734, 1757), (1739, 1668), (1743, 1702), (1748, 1736), (1752, 1653), (1756, 1712), (1759, 1687),
    (1741, 1727), (1747, 1681), (1753, 1743), (1728, 1707), (1719, 1693), (1737, 1713), (1751, 1722), (1733, 1691), (1757, 1669), (1745, 1749),
    (15, 450), (30, 320), (50, 290), (45, 780), (25, 780), (10, 440), (95, 510), (70, 720), (100, 700), (120, 450),
    (75, 590), (60, 400), (145, 720), (170, 690), (165, 540), (240, 840), (240, 720), (245, 650), (180, 450), (230, 560),
    (290, 600), (310, 600), (340, 520), (345, 980), (380, 760), (440, 1080), (445, 930), (480, 800), (520, 720), (555, 1100),
    (560, 760), (570, 1000), (620, 870), (700, 1070), (705, 880), (725, 1000), (745, 1340), (710, 1310), (770, 1660), (775, 1150),
    (780, 1000), (860, 1270), (850, 1150), (900, 1400), (870, 1080), (950, 1720), (960, 1740), (930, 1700), (980, 1730), (1000, 1720),
    (1000, 1580), (1010, 1550), (1060, 1590), (1095, 1720), (1100, 1760), (1115, 1700), (1170, 1750), (1200, 1600), (1225, 1760), (1240, 1700),
    (1310, 1770), (1290, 1660), (1150, 1470), (1180, 1540), (1060, 1300), (1040, 1340), (1290, 1720), (1250, 1540), (1340, 1590), (1400, 1600),
    (1550, 1760), (1590, 1770), (1640, 1760), (1570, 1720), (1620, 1740), (1700, 1770), (1730, 1770), (1610, 1370), (1690, 1180), (1750, 1370),
    (1730, 1050), (1720, 810), (1740, 920), (1630, 880), (1570, 1070), (1590, 950), (1550, 760), (1530, 1050), (1480, 730), (1420, 850),
    (1380, 1050), (1310, 620), (1290, 1000), (1240, 1050), (1160, 530), (1130, 900), (1110, 1020), (1040, 600), (1060, 850), (960, 200),
    (910, 110), (840, 60), (790, 30), (710, 50), (640, 30), (580, 40), (560, 80), (520, 20), (495, 90), (470, 150),
    (430, 190), (380, 100), (340, 200), (300, 60), (240, 20), (230, 100), (200, 30), (170, 50), (120, 15), (95, 30),
    (790, 430), (740, 520), (700, 300), (650, 480), (600, 270), (540, 310), (1010, 400), (960, 330), (880, 250), (890, 500),
]

HIST_EDGES = np.linspace(-1, 1, 41)
C1_POP_ALL = [0] * 18 + [2, 56, 124, 28] + [0] * 18
C1_POP_REPRO = [0] * 18 + [2, 0, 4, 28] + [0] * 18
C1_SINGLE_ALL = [0] * 11 + [1, 0, 0, 3, 15, 45, 120, 245, 378, 353, 272, 175, 82, 43, 18, 8, 2, 3] + [0] * 11
C1_SINGLE_REPRO = [0] * 11 + [1, 0, 0, 3, 15, 45, 30, 0, 0, 0, 0, 42, 82, 43, 18, 8, 2, 3] + [0] * 11
C2_POP_ALL = [0] * 19 + [2, 25, 60, 44, 23, 15, 10, 12, 4, 6, 7, 2] + [0] * 9
C2_POP_REPRO = [0] * 19 + [0, 1, 60, 44, 23, 15, 10, 12, 4, 6, 7, 2] + [0] * 9
C2_SINGLE_ALL = [0] * 15 + [1, 4, 15, 81, 178, 222, 212, 200, 160, 138, 108, 83, 66, 68, 43,
                            36, 36, 25, 29, 22, 21, 11, 1, 1, 0]
C2_SINGLE_REPRO = [0] * 15 + [1, 4, 1, 0, 0, 0, 0, 63, 160, 138, 108, 83, 66, 68, 43,
                              36, 36, 25, 29, 22, 21, 11, 1, 1, 0]

LABEL_SIZE = 12.7
TICK_SIZE = 13.2

plt.rcParams["font.family"] = "DejaVu Sans"
plt.rcParams["mathtext.default"] = "it"
plt.rcParams["text.color"] = TEXT_COLOR
plt.rcParams["axes.edgecolor"] = TEXT_COLOR
plt.rcParams["xtick.color"] = TEXT_COLOR
plt.rcParams["ytick.color"] = TEXT_COLOR

fig = plt.figure(figsize=(WIDTH / 100, HEIGHT / 100), dpi=100)


def add_axes(left, top, right, bottom):
    """Axes placed by pixel box, measured from the top left of the picture."""
    ax = fig.add_axes([left / WIDTH, 1 - bottom / HEIGHT, (right - left) / WIDTH, (bottom - top) / HEIGHT])
    return ax


def label(x, y, text, size=LABEL_SIZE, **kwargs):
    kwargs.setdefault("ha", "center")
    kwargs.setdefault("va", "center")
    return fig.text(x / WIDTH, 1 - y / HEIGHT, text, fontsize=size, **kwargs)


def panel_letter(x, y, letter, sub, name=None):
    bold = dict(family="Liberation Sans", weight="bold", ha="left", va="baseline")
    label(x, y, letter, size=16.5, **bold)
    label(x + 17.5, y + 3, sub, size=11, **bold)
    if name:
        label(x + 33, y, name, size=12.8, **bold)


def decode(rows):
    cells = []
    for row in rows:
        row = row.replace(" ", "")
        cells.append([int(c) for c in row.ljust(N_BINS, "3")[:N_BINS]])
    return CELL_BASE + CELL_STEP * np.array(cells, dtype=float)


def draw_map(left, top, rows, ticks, tick_labels, vmax, show_y):
    ax = add_axes(left, top, left + 155, top + 199)
    im = ax.imshow(decode(rows), aspect="auto", cmap="viridis", vmin=-1.4, vmax=vmax,
                   extent=[0, N_BINS, 0, N_NEURONS], interpolation="nearest")
    ax.spines[["top", "right"]].set_visible(False)
    ax.set_xticks(ticks)
    ax.set_xticklabels(tick_labels, fontsize=10.6)
    ax.set_yticks(NEURON_TICKS)
    ax.tick_params(axis="y", labelsize=TICK_SIZE, labelleft=show_y, length=4, width=1, pad=3)
    ax.tick_params(axis="x", length=4, width=1, pad=5)
    return im


def draw_corr(left, top, values):
    ax = add_axes(left, top, left + 59, top + 59)
    im = ax.imshow(values, aspect="auto", cmap="coolwarm", vmin=-1, vmax=1,
                   extent=[0, N_NEURONS, N_NEURONS, 0], interpolation="bilinear")
    ax.xaxis.tick_top()
    ax.spines[["bottom", "right"]].set_visible(False)
    ax.set_xticks(CORR_TICKS)
    ax.set_yticks(CORR_TICKS)
    ax.tick_params(length=3, width=0.8, labeltop=False, labelleft=False)
    label(left + 29.5, top - 21, "Neuron #")
    label(left - 23.5, top + 31, "Neuron #", rotation=90)
    return im


def draw_colorbar(top, image, upper):
    cax = add_axes(599.5, top, 614, top + 88)
    cbar = fig.colorbar(image, cax=cax)
    cbar.set_ticks([-1.4, 0, upper])
    cbar.set_ticklabels(["\u2264 -1.4", "0", f"\u2265 {upper}"])
    cbar.ax.tick_params(labelsize=12.5, length=4, width=1, pad=2)
    cbar.outline.set_linewidth(0.6)
    label(688, top + 44, "Firing rate", rotation=90)
    label(708, top + 44, "(z-scored)", rotation=90)


def draw_scatter(top, points, show_x):
    ax = add_axes(824, top, 1021, top + 199)
    x_vals = [p[0] for p in points]
    y_vals = [p[1] for p in points]
    ax.scatter(x_vals, y_vals, s=4, color=BLUE, linewidths=0)
    ax.set_xlim(-88, 1853)
    ax.set_ylim(-84, 1857)
    ax.set_xticks(NEURON_TICKS)
    ax.set_yticks(NEURON_TICKS)
    ax.spines[["top", "right"]].set_visible(False)
    ax.tick_params(labelsize=TICK_SIZE, length=4, width=1, pad=3, labelbottom=show_x)
    label(755, top + 100, "# even", rotation=90)
    return ax


def draw_hist(left, top, counts_all, counts_repro, y_top, y_ticks, show_x):
    ax = add_axes(left, top, left + 126.5, top + 199)
    ax.stairs(counts_all, HIST_EDGES, fill=True, color=GREY)
    ax.stairs(counts_repro, HIST_EDGES, color=ORANGE, linewidth=1.2, alpha=0.9)
    ax.set_xlim(-1.095, 1.165)
    ax.set_ylim(0, y_top)
    ax.set_xticks([-1, 0, 1])
    ax.set_yticks(y_ticks)
    ax.spines[["top", "right"]].set_visible(False)
    ax.spines["bottom"].set_linewidth(1.3)
    ax.tick_params(labelsize=TICK_SIZE, length=4, width=1, pad=3, labelbottom=show_x)
    return ax


def draw_pie(cx, cy, shares):
    ax = add_axes(cx - 8.5, cy - 8.5, cx + 8.5, cy + 8.5)
    ax.pie(shares, colors=[BLUE, ORANGE], startangle=0, radius=1)
    ax.set_xlim(-1.06, 1.06)
    ax.set_ylim(-1.06, 1.06)


# frame round the whole figure
for xs, ys in [((8.5, 8.5), (620, 9)), ((8.5, 1442.5), (9, 9)), ((1442.5, 1442.5), (9, 620))]:
    fig.add_artist(Line2D([x / WIDTH for x in xs], [1 - y / HEIGHT for y in ys],
                          color="#808080", linewidth=1.1))

# A panels
im_a1 = draw_map(108, 65, A1_ODD, A1_TIME_TICKS, A1_TIME_LABELS, 2.5, True)
draw_map(417, 65, A1_EVEN, A1_TIME_TICKS, A1_TIME_LABELS, 2.5, False)
im_a2 = draw_map(108, 363, A2_ODD, A2_ODD_TIME_TICKS, A2_ODD_TIME_LABELS, 2.6, True)
draw_map(417, 363, A2_EVEN, A2_EVEN_TIME_TICKS, A2_EVEN_TIME_LABELS, 2.6, False)

draw_corr(311, 206, CORR_A1_ODD)
draw_corr(619.5, 206, CORR_A1_EVEN)
draw_corr(311, 504, CORR_A2_ODD)
draw_corr(619.5, 504, CORR_A2_EVEN)

draw_colorbar(65.7, im_a1, 2.5)
draw_colorbar(363.5, im_a2, 2.6)

r_cax = add_axes(308.5, 271, 371.5, 276.5)
r_bar = fig.colorbar(ScalarMappable(Normalize(-1, 1), "coolwarm"), cax=r_cax, orientation="horizontal")
r_bar.set_ticks([-1, 0, 1])
r_bar.ax.tick_params(labelsize=12.5, length=2, width=0.8, pad=1)
label(340.5, 310, "Pearson's $r$")

label(186, 53, "odd")
label(494, 53, "even")
for x_mid in (186, 494):
    label(x_mid, 301.5, "Stimulus (s)")
    label(x_mid, 599, "Reproduction (s)")
label(39, 166, "Neuron #", rotation=90)
label(39, 464, "Neuron #", rotation=90)

panel_letter(27.5, 41.5, "A", "1", "Measurement")
panel_letter(27.5, 345, "A", "2", "Reproduction")

# B panels
draw_scatter(65.5, B1_POINTS, False)
draw_scatter(363.5, B2_POINTS, True)
label(922.5, 602, "# odd")
panel_letter(746.5, 41, "B", "1")
panel_letter(746.5, 345, "B", "2")

# C panels
draw_hist(1105, 65.5, C1_POP_ALL, C1_POP_REPRO, 131, [0, 50, 100], False)
draw_hist(1294, 65.5, C1_SINGLE_ALL, C1_SINGLE_REPRO, 397, [0, 100, 200, 300], False)
draw_hist(1105, 363.5, C2_POP_ALL, C2_POP_REPRO, 63.2, [0, 20, 40, 60], True)
draw_hist(1294, 363.5, C2_SINGLE_ALL, C2_SINGLE_REPRO, 234, [0, 100, 200], True)

label(1168, 45, "Population")
label(1357, 45, "Single neurons")
label(1047, 165.5, "#", rotation=90)
label(1058, 463, "#", rotation=90)
label(1168, 601.5, "Pearson's $r$")
label(1357, 601.5, "Pearson's $r$")
panel_letter(1045, 41.5, "C", "1")
panel_letter(1045, 345.5, "C", "2")

draw_pie(1205.7, 84.3, [84, 16])
draw_pie(1395, 84.3, [83, 17])
draw_pie(1205.7, 381.7, [12, 88])
draw_pie(1395, 382.3, [48, 52])

pie_size = 10.8
label(1189, 74, "84%", size=pie_size)
label(1222, 92, "16%", size=pie_size)
label(1380, 74.5, "83%", size=pie_size)
label(1410, 91.5, "17%", size=pie_size)
label(1223, 374, "12%", size=pie_size)
label(1188, 389, "88%", size=pie_size)
label(1396, 364, "48%", size=pie_size)
label(1394, 398, "52%", size=pie_size)

fig.savefig("out.png", dpi=100)
